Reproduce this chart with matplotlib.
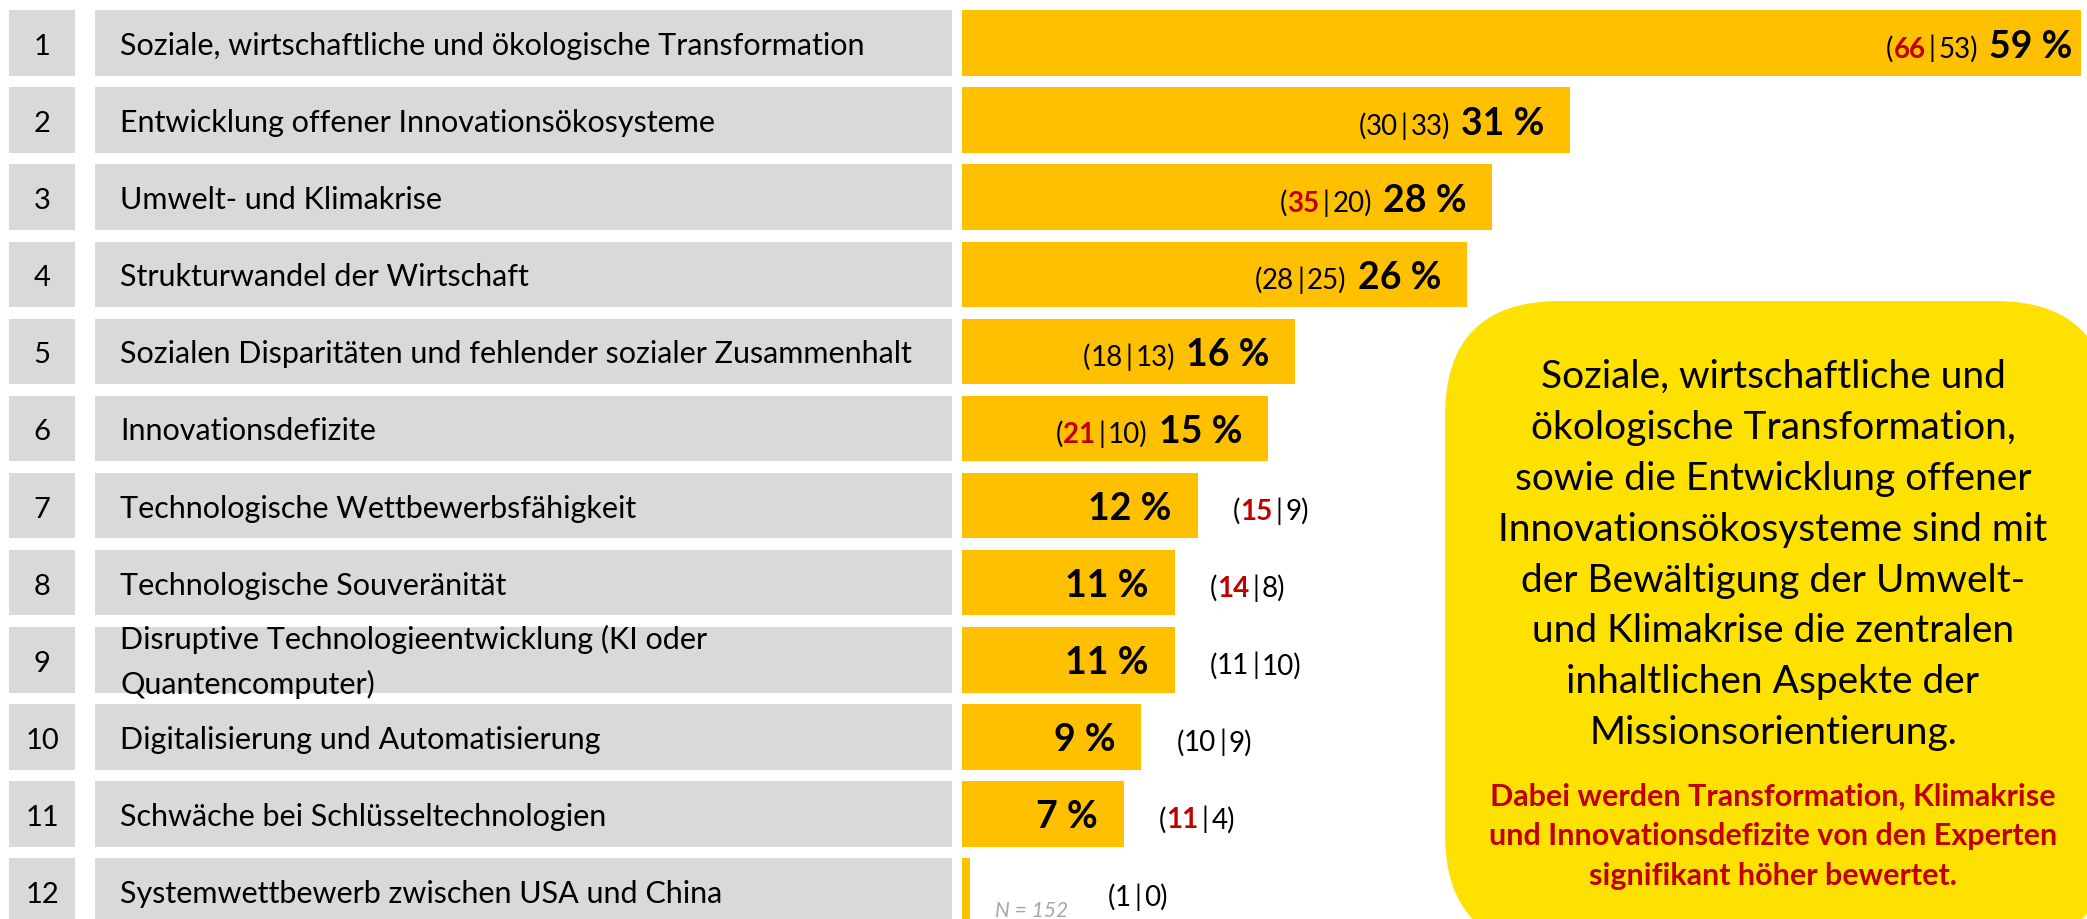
import matplotlib
matplotlib.use("Agg")
import matplotlib.pyplot as plt
from matplotlib.patches import FancyBboxPatch
from matplotlib.transforms import IdentityTransform

plt.rcParams['font.family'] = ['Lato', 'DejaVu Sans']

# Daten
ranks = list(range(1, 13))
topics = [
    "Soziale, wirtschaftliche und ökologische Transformation",
    "Entwicklung offener Innovationsökosysteme",
    "Umwelt- und Klimakrise",
    "Strukturwandel der Wirtschaft",
    "Sozialen Disparitäten und fehlender sozialer Zusammenhalt",
    "Innovationsdefizite",
    "Technologische Wettbewerbsfähigkeit",
    "Technologische Souveränität",
    "Disruptive Technologieentwicklung (KI oder\nQuantencomputer)",
    "Digitalisierung und Automatisierung",
    "Schwäche bei Schlüsseltechnologien",
    "Systemwettbewerb zwischen USA und China",
]
pct_labels = [59, 31, 28, 26, 16, 15, 12, 11, 11, 9, 7, None]
bar_values = [57.4, 31.2, 27.2, 25.9, 17.1, 15.7, 12.1, 10.9, 10.9, 9.2, 8.3, 0.4]
group_a = [66, 30, 35, 28, 18, 21, 15, 14, 11, 10, 11, 1]
group_b = [53, 33, 20, 25, 13, 10, 9, 8, 10, 9, 4, 0]
a_higher = [True, False, True, False, False, True, True, True, False, False, True, False]

box_lines = [
    "Soziale, wirtschaftliche und",
    "ökologische Transformation,",
    "sowie die Entwicklung offener",
    "Innovationsökosysteme sind mit",
    "der Bewältigung der Umwelt-",
    "und Klimakrise die zentralen",
    "inhaltlichen Aspekte der",
    "Missionsorientierung.",
]
box_red_lines = [
    "Dabei werden Transformation, Klimakrise",
    "und Innovationsdefizite von den Experten",
    "signifikant höher bewertet.",
]

GOLD = "#FFC000"
GREY = "#D9D9D9"
YELLOW = "#FFE100"
RED = "#C00000"

W, H = 2087, 920
fig = plt.figure(figsize=(W / 100, H / 100), dpi=100)
fig.patch.set_facecolor("white")

row_px = 77.1
first = 44
ylim = ((H - first) / row_px, -first / row_px)
rows = list(range(len(topics)))
bar_h = 0.85
px_per_unit = 19.5

# linke Seite: Rang + Beschriftung
ax_lab = fig.add_axes([0, 0, 962 / W, 1])
ax_lab.set_xlim(0, 962)
ax_lab.set_ylim(*ylim)
ax_lab.axis("off")
ax_lab.barh(rows, 66, left=9, height=bar_h, color=GREY)
ax_lab.barh(rows, 857, left=95, height=bar_h, color=GREY)

for i in rows:
    ax_lab.annotate(str(ranks[i]), (42, i), textcoords="offset pixels", xytext=(0, -11),
                    ha="center", va="baseline", fontsize=21)
    lines = topics[i].split("\n")
    n = len(lines)
    for k, line in enumerate(lines):
        dy = -11 + (n - 1) / 2 * 45 - k * 45
        ax_lab.annotate(line, (120, i), textcoords="offset pixels", xytext=(0, dy),
                        ha="left", va="baseline", fontsize=22)

# Balken
ax = fig.add_axes([962 / W, 0, 1 - 962 / W, 1])
ax.set_xlim(0, (W - 962) / px_per_unit)
ax.set_ylim(*ylim)
ax.axis("off")
ax.barh(rows, bar_values, height=bar_h, color=GOLD)

fig.canvas.draw()
renderer = fig.canvas.get_renderer()


def put_parts(x, y, parts, off, right=True):
    seq = reversed(parts) if right else parts
    for s, kw, gap in seq:
        off = off - gap if right else off + gap
        t = ax.annotate(s, (x, y), textcoords="offset pixels", xytext=(off, -13.5),
                        ha="right" if right else "left", va="baseline", **kw)
        w = t.get_window_extent(renderer).width
        off = off - w - gap if right else off + w + gap
    return off


normal = dict(fontsize=20, color="black")
for i in rows:
    a_kw = dict(fontsize=20, color=RED, fontweight="bold") if a_higher[i] else normal
    paren = [("(", normal, 0), (str(group_a[i]), a_kw, 0), ("|", normal, 3),
             (f"{group_b[i]})", normal, 0)]
    x = bar_values[i]
    if pct_labels[i] is None:
        put_parts(x, i, paren, 138, right=False)
        ax.annotate("N = 152", (x, i), textcoords="offset pixels", xytext=(25, -25),
                    ha="left", va="baseline", fontsize=15, style="italic", color="#A6A6A6")
        continue
    pad = 9 if i == 0 else 26
    pct = [(f"{pct_labels[i]} %", dict(fontsize=27, fontweight="bold", color="black"), 0)]
    left = put_parts(x, i, pct, -pad)
    if i < 6:
        put_parts(x, i, paren, left - 11)
    else:
        put_parts(x, i, paren, 35, right=False)

# Hinweisbox
box = FancyBboxPatch((1445, H - 950), 665, 648, boxstyle="round,pad=0,rounding_size=115",
                     transform=IdentityTransform(), facecolor=YELLOW, edgecolor="none")
fig.add_artist(box)
for k, line in enumerate(box_lines):
    fig.text(1773, H - (388 + k * 50.9), line, transform=IdentityTransform(),
             ha="center", va="baseline", fontsize=28)
for k, line in enumerate(box_red_lines):
    fig.text(1773, H - (806 + k * 39.5), line, transform=IdentityTransform(),
             ha="center", va="baseline", fontsize=22, fontweight="bold", color=RED)

fig.savefig("out.png", dpi=100, facecolor="white")
